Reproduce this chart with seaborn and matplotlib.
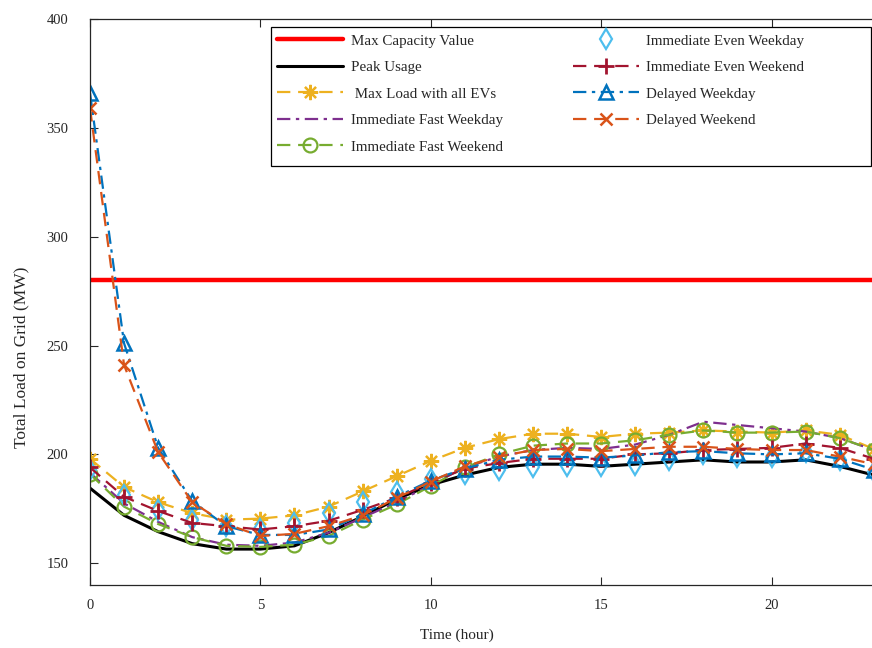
import numpy as np
import pandas as pd
import seaborn as sns
import matplotlib
matplotlib.use("Agg")
import matplotlib.pyplot as plt
from matplotlib.patches import Rectangle

hours = list(range(24))

max_capacity = 280

peak_usage = [184.5, 172, 164.5, 159, 156.5, 156.5, 158, 164, 171.5, 179.5, 186, 190.5,
              194, 195.5, 195.5, 194.5, 195.5, 196.5, 197.5, 196.5, 196.5, 197.5, 194.5, 190.5]
max_load_all_evs = [198, 185, 178, 173, 170, 170.5, 172, 176, 183, 190, 197, 203,
                    207, 209.5, 209.5, 208, 209.5, 210, 211, 210.5, 210, 211, 209, 202.5]
imm_fast_weekday = [191.5, 177.5, 169, 162, 158.5, 158, 159.5, 164, 171, 178, 186, 194,
                    199, 202, 203, 202.5, 204.5, 209, 215, 213.5, 212, 210.5, 207.5, 202]
imm_fast_weekend = [191, 176, 168, 162, 158, 157.5, 158.5, 162.5, 170, 177, 185.5, 194,
                    200, 204, 205, 205, 206.5, 209, 211, 210, 210, 210.5, 207.5, 202]
imm_even_weekday = [193, 181.5, 174.5, 170, 167, 165.5, 168.5, 173, 178, 182.5, 188.5, 191,
                    193, 194, 194.5, 194.5, 195, 197.5, 200, 199, 199, 201, 197.5, 192]
imm_even_weekend = [194, 180.5, 174, 168.5, 167, 165.5, 167, 169.5, 174.5, 180, 187, 193.5,
                    196, 198, 198, 198, 200, 200.5, 202, 202.5, 203, 205, 203, 198]
delayed_weekday = [366, 251, 203, 178.5, 167, 163, 163, 165.5, 172.5, 180.5, 188, 193.5,
                   197.5, 199, 199, 198.5, 199.5, 201, 201.5, 200.5, 200, 200.5, 198, 193]
delayed_weekend = [359, 241, 201, 178, 168, 162.5, 163.5, 167, 172, 180, 187.5, 194.5,
                   199, 202, 202.5, 201.5, 202.5, 203.5, 203.5, 202.5, 202, 202, 199, 195.5]

labels = ["Max Capacity Value", "Peak Usage", " Max Load with all EVs",
          "Immediate Fast Weekday", "Immediate Fast Weekend", "Immediate Even Weekday",
          "Immediate Even Weekend", "Delayed Weekday", "Delayed Weekend"]

xticks = [0, 5, 10, 15, 20]
yticks = [150, 200, 250, 300, 350, 400]

sns.set_theme(style="ticks")
plt.rcParams['font.family'] = ['Liberation Serif', 'DejaVu Serif']
plt.rcParams['xtick.direction'] = 'in'
plt.rcParams['ytick.direction'] = 'in'

W, H = 872, 648
fig = plt.figure(figsize=(W/100, H/100), dpi=100)
ax = fig.add_axes([90/W, 1-585/H, 1 - 90/W + 0.002, (585-19)/H])
AW = W - 90 + 1.7
AH = 566

lw = 1.6
ms = 10
dash = (6, 3.5)
dashdot = (6, 2.5, 1.5, 2.5)
asterisk = (8, 2, 0)

ax.axhline(max_capacity, color='#FF0000', lw=3.2, label=labels[0], zorder=2)

sns.lineplot(x=hours, y=peak_usage, ax=ax, color='black', lw=2.2, label=labels[1])
c = '#EDB120'
sns.lineplot(x=hours, y=max_load_all_evs, ax=ax, color=c, lw=lw, dashes=dash,
             marker=asterisk, markersize=ms+1, markeredgecolor=c, markerfacecolor=c,
             markeredgewidth=1.6, label=labels[2])
sns.lineplot(x=hours, y=imm_fast_weekday, ax=ax, color='#7E2F8E', lw=lw, dashes=dashdot,
             label=labels[3])
c = '#77AC30'
sns.lineplot(x=hours, y=imm_fast_weekend, ax=ax, color=c, lw=lw, dashes=dash,
             marker='o', markersize=ms, markerfacecolor='none', markeredgecolor=c,
             markeredgewidth=1.6, label=labels[4])
c = '#4DBEEE'
sns.lineplot(x=hours, y=imm_even_weekday, ax=ax, color=c, lw=0, linestyle='none',
             marker='d', markersize=ms, markerfacecolor='none', markeredgecolor=c,
             markeredgewidth=1.6, label=labels[5])
c = '#A2142F'
sns.lineplot(x=hours, y=imm_even_weekend, ax=ax, color=c, lw=lw, dashes=dash,
             marker='+', markersize=ms+1, markeredgecolor=c, markeredgewidth=2, label=labels[6])
c = '#0072BD'
sns.lineplot(x=hours, y=delayed_weekday, ax=ax, color=c, lw=lw, dashes=dashdot,
             marker='^', markersize=ms, markerfacecolor='none', markeredgecolor=c,
             markeredgewidth=1.8, label=labels[7])
c = '#D95319'
sns.lineplot(x=hours, y=delayed_weekend, ax=ax, color=c, lw=lw, dashes=dash,
             marker='x', markersize=ms-2, markeredgecolor=c, markeredgewidth=1.8,
             label=labels[8])

ax.set_xlim(0, 23)
ax.set_ylim(140, 400)
ax.set_xticks(xticks)
ax.set_yticks(yticks)
ax.tick_params(axis='both', labelsize=10.5, length=6, width=0.8, colors='#262626',
               top=True, right=False)
ax.tick_params(axis='x', pad=10)
ax.tick_params(axis='y', pad=15.5)
for s in ['left', 'bottom', 'top']:
    ax.spines[s].set_color('#262626')
    ax.spines[s].set_linewidth(0.9)
ax.spines['right'].set_visible(False)

ax.set_xlabel('Time (hour)', fontsize=11)
ax.set_ylabel('Total Load on Grid (MW)', fontsize=12.5)
ax.xaxis.set_label_coords((457-90)/AW, -(629-585)/AH, transform=ax.transAxes)
ax.yaxis.set_label_coords(-(90-29)/AW, (585-357)/AH, transform=ax.transAxes)

handles, labs = ax.get_legend_handles_labels()
if ax.get_legend() is not None:
    ax.get_legend().remove()
leg = fig.legend(handles, labs, ncol=2, loc='upper left',
                 bbox_to_anchor=(277/W, 1-34/H),
                 fontsize=10.8, handlelength=4.4, numpoints=1, columnspacing=4.7,
                 labelspacing=0.87, borderpad=0, borderaxespad=0, handletextpad=0.5,
                 frameon=False)
fig.add_artist(Rectangle((271/W, 1-166/H), (870.5-271)/W, (166-27)/H,
                         transform=fig.transFigure, fill=True, facecolor='white',
                         edgecolor='black', lw=0.9, zorder=4))
leg.set_zorder(5)

fig.savefig('out.png', dpi=100)
